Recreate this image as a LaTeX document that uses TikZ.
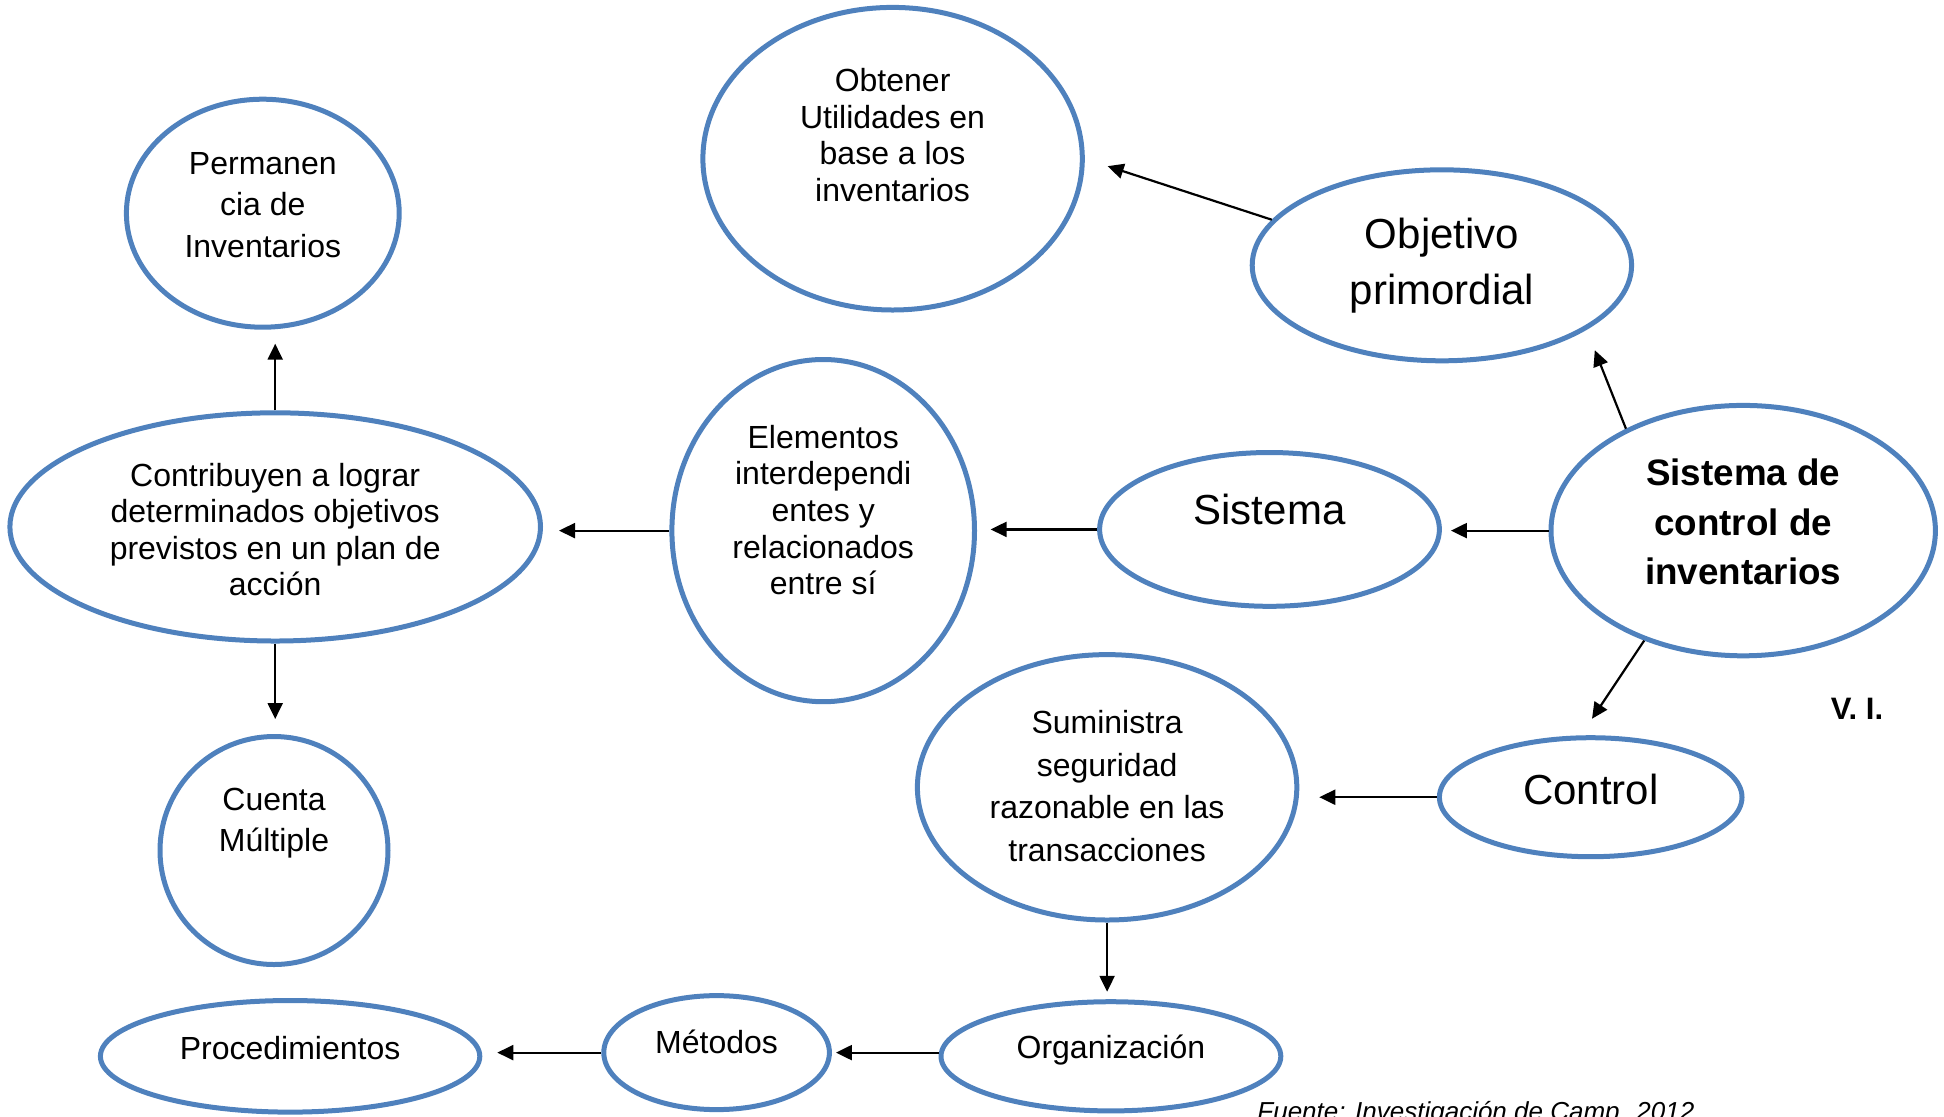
\documentclass[tikz,border=0pt]{standalone}
\usepackage{fontspec}
\setmainfont{Liberation Sans}
\usetikzlibrary{shapes.geometric,arrows.meta}
\definecolor{ebl}{HTML}{4F81BD}
\begin{document}
\begin{tikzpicture}[x=0.5pt,y=-0.5pt,
  ell/.style 2 args={ellipse,draw=ebl,line width=2.5pt,inner sep=0pt,minimum width=#1pt,minimum height=#2pt},
  txt/.style 2 args={align=center,inner sep=0pt,font=\fontsize{#1}{#2}\selectfont},
  arr/.style={line width=1.1pt,-{Triangle[length=8pt,width=7.5pt]}}]
\useasboundingbox (0,0) rectangle (1944,1116);

% ellipses
\node[ell={189.7}{151.3}] (obt) at (892.6,158.7) {};
\node[ell={136.4}{114}] (perm) at (262.8,213.2) {};
\node[ell={189.7}{95.5}] (obj) at (1441.9,265.3) {};
\node[ell={265.3}{114.1}] (contr) at (275.2,526.9) {};
\node[ell={151.3}{171.1}] (elem) at (823.2,530.6) {};
\node[ell={169.9}{76.9}] (sis) at (1269.5,529.4) {};
\node[ell={192.2}{125.2}] (sc) at (1743.2,530.6) {};
\node[ell={114}{114}] (cuenta) at (274,850.5) {};
\node[ell={189.7}{132.7}] (sum) at (1107.1,787.3) {};
\node[ell={151.3}{59.5}] (ctrl) at (1590.7,797.2) {};
\node[ell={189.7}{55.8}] (proc) at (290.1,1056.3) {};
\node[ell={112.8}{57}] (met) at (716.6,1052.6) {};
\node[ell={169.9}{54.6}] (org) at (1110.9,1056.3) {};

% texts
\node[txt={16}{18.4}] (obtT) at (892.6,135) {Obtener\\Utilidades en\\base a los\\inventarios};
\node[txt={16}{20.8}] (permT) at (262.8,205) {Permanen\\cia de\\Inventarios};
\node[txt={21}{27.9}] (objT) at (1442,266) {Objetivo\\primordial};
\node[txt={16}{18.2}] (contrT) at (275.2,529.4) {Contribuyen a lograr\\determinados objetivos\\previstos en un plan de\\acción};
\node[txt={16}{18.3}] (elemT) at (823.2,510) {Elementos\\interdependi\\entes y\\relacionados\\entre sí};
\node[txt={21}{25}] (sisT) at (1269.5,509.6) {Sistema};
\node[txt={18.4}{24.8}] (scT) at (1743.2,522) {\bfseries Sistema de\\\bfseries control de\\\bfseries inventarios};
\node[txt={16}{20.5}] (cuentaT) at (274,822.9) {Cuenta\\Múltiple};
\node[txt={16}{21.3}] (sumT) at (1107.1,786) {Suministra\\seguridad\\razonable en las\\transacciones};
\node[txt={21}{25}] (ctrlT) at (1590.7,789.8) {Control};
\node[txt={16}{19}] (procT) at (290.1,1047.6) {Procedimientos};
\node[txt={16}{19}] (metT) at (716.6,1041.4) {Métodos};
\node[txt={16}{19}] (orgT) at (1110.9,1050) {Organización};
\node[txt={15.5}{19},font=\fontsize{15.5}{19}\selectfont\bfseries] (vi) at (1857,709) {V. I.};
\node[inner sep=0pt,anchor=base west,font=\fontsize{13}{16}\selectfont\itshape] (fuente) at (1257,1120) {Fuente: Investigación de Camp. 2012};

% connectors
\draw[arr,shorten >=12pt] (obj.165) -- (obt.0);
\draw[arr,shorten >=11pt] (sc.139) -- (obj.-24);
\draw[arr,shorten >=4.5pt] (sc.west) -- (sc.west -| sis.east);
\draw[arr,shorten >=6.8pt] (sis.west) -- (sis.west -| elem.east);
\draw[arr,shorten >=8pt] (elem.west) -- (elem.west -| contr.east);
\draw[arr,shorten >=7pt] (contr.north) -- (contr.north |- perm.south);
\draw[arr,shorten >=7.5pt] (contr.south) -- (contr.south |- cuenta.north);
\draw[arr,shorten >=10pt] (sc.-132) -- (ctrl.99);
\draw[arr,shorten >=10pt] (ctrl.west) -- (ctrl.west -| sum.east);
\draw[arr,shorten >=3.7pt] (sum.south) -- (sum.south |- org.north);
\draw[arr,shorten >=2pt] (met.east -| org.west) -- (met.east);
\draw[arr,shorten >=7.5pt] (met.west) -- (met.west -| proc.east);
\end{tikzpicture}
\end{document}
